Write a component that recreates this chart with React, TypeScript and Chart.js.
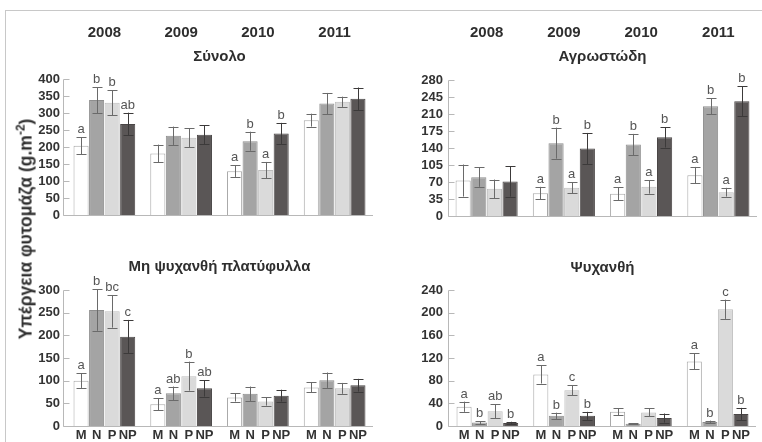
import React, { useEffect, useRef } from "react";
import { Chart, registerables } from "chart.js";

Chart.register(...registerables);

// ---------- DATA ----------
const years = ["2008", "2009", "2010", "2011"];
const treatments = ["M", "N", "P", "NP"];

// Panel 1: Σύνολο
const totalTitle = "Σύνολο";
const totalM = [204, 181, 129, 279];
const totalN = [338, 233, 217, 328];
const totalP = [330, 227, 132, 333];
const totalNP = [268, 236, 240, 342];
const totalErrM = [25, 26, 17, 19];
const totalErrN = [38, 27, 28, 31];
const totalErrP = [37, 28, 24, 15];
const totalErrNP = [33, 28, 31, 33];
const totalLetM = ["a", "", "a", ""];
const totalLetN = ["b", "", "b", ""];
const totalLetP = ["b", "", "a", ""];
const totalLetNP = ["ab", "", "b", ""];

// Panel 2: Αγρωστώδη
const grassTitle = "Αγρωστώδη";
const grassM = [73, 47, 46, 84];
const grassN = [80, 150, 147, 226];
const grassP = [56, 58, 60, 49];
const grassNP = [71, 139, 162, 236];
const grassErrM = [33, 13, 13, 17];
const grassErrN = [20, 32, 22, 16];
const grassErrP = [19, 11, 14, 9];
const grassErrNP = [31, 32, 21, 31];
const grassLetM = ["", "a", "a", "a"];
const grassLetN = ["", "b", "b", "b"];
const grassLetP = ["", "a", "a", "a"];
const grassLetNP = ["", "b", "b", "b"];

// Panel 3: Μη ψυχανθή πλατύφυλλα
const forbTitle = "Μη ψυχανθή πλατύφυλλα";
const forbM = [100, 48, 63, 85];
const forbN = [256, 72, 71, 101];
const forbP = [253, 110, 54, 83];
const forbNP = [197, 83, 67, 90];
const forbErrM = [16, 13, 9, 11];
const forbErrN = [46, 15, 16, 17];
const forbErrP = [36, 32, 9, 12];
const forbErrNP = [37, 18, 13, 14];
const forbLetM = ["a", "a", "", ""];
const forbLetN = ["b", "ab", "", ""];
const forbLetP = ["bc", "b", "", ""];
const forbLetNP = ["c", "ab", "", ""];

// Panel 4: Ψυχανθή
const legTitle = "Ψυχανθή";
const legM = [34, 91, 25, 114];
const legN = [6, 18, 4, 7];
const legP = [26, 63, 24, 206];
const legNP = [5.5, 18, 14, 21];
const legErrM = [9, 16, 6, 14];
const legErrN = [2.5, 5.5, 1, 2.5];
const legErrP = [12, 9, 7, 17];
const legErrNP = [2, 7, 8, 11];
const legLetM = ["a", "a", "", "a"];
const legLetN = ["b", "b", "", "b"];
const legLetP = ["ab", "c", "", "c"];
const legLetNP = ["b", "b", "", "b"];

const yAxisTitle = "Υπέργεια φυτομάζα (g.m";
const yAxisUnitSup = "-2";

// ---------- STYLE ----------
const W = 762;
const H = 442;
const FONT = "'Liberation Sans', Arial, sans-serif";
const fills = ["#ffffff", "#a4a4a4", "#dadada", "#5a5656"];
const borders = ["#a8a8a8", "#8e8e8e", "#bdbdbd", "#4a4646"];

type Panel = {
  title: string;
  values: number[][];
  errors: number[][];
  letters: string[][];
  max: number;
  step: number;
  area: { left: number; top: number; right: number; bottom: number };
  axisGap: number;
  titleY: number;
  yearsY: number | null;
  xLabelsY: number | null;
  tickPad: number;
};

const panels: Panel[] = [
  {
    title: totalTitle,
    values: [totalM, totalN, totalP, totalNP],
    errors: [totalErrM, totalErrN, totalErrP, totalErrNP],
    letters: [totalLetM, totalLetN, totalLetP, totalLetNP],
    max: 400,
    step: 50,
    area: { left: 66, top: 79, right: 373, bottom: 215 },
    axisGap: 3,
    titleY: 57,
    yearsY: 33,
    xLabelsY: null,
    tickPad: 6,
  },
  {
    title: grassTitle,
    values: [grassM, grassN, grassP, grassNP],
    errors: [grassErrM, grassErrN, grassErrP, grassErrNP],
    letters: [grassLetM, grassLetN, grassLetP, grassLetNP],
    max: 280,
    step: 35,
    area: { left: 448, top: 80, right: 757, bottom: 216 },
    axisGap: 0,
    titleY: 57,
    yearsY: 33,
    xLabelsY: null,
    tickPad: 5,
  },
  {
    title: forbTitle,
    values: [forbM, forbN, forbP, forbNP],
    errors: [forbErrM, forbErrN, forbErrP, forbErrNP],
    letters: [forbLetM, forbLetN, forbLetP, forbLetNP],
    max: 300,
    step: 50,
    area: { left: 66, top: 290, right: 373, bottom: 426 },
    axisGap: 3,
    titleY: 267,
    yearsY: null,
    xLabelsY: 435,
    tickPad: 6,
  },
  {
    title: legTitle,
    values: [legM, legN, legP, legNP],
    errors: [legErrM, legErrN, legErrP, legErrNP],
    letters: [legLetM, legLetN, legLetP, legLetNP],
    max: 240,
    step: 40,
    area: { left: 449, top: 290, right: 756, bottom: 426 },
    axisGap: 1,
    titleY: 268,
    yearsY: null,
    xLabelsY: 435,
    tickPad: 6,
  },
];

const Y_WIDTH = 50;

const decorPlugin = {
  id: "decor",
  afterDatasetsDraw(chart: any, _args: any, opts: any) {
    const p: Panel = opts.panel;
    const ctx = chart.ctx;
    const xs = chart.scales.x;
    const ys = chart.scales.y;
    const ca = chart.chartArea;
    const ax = Math.round(ca.left - p.axisGap) + 0.5;
    const bottom = Math.round(ys.getPixelForValue(0)) + 0.5;
    const top = Math.round(ys.getPixelForValue(p.max)) + 0.5;
    ctx.save();
    // axes
    ctx.strokeStyle = "#b8b8b8";
    ctx.lineWidth = 1;
    ctx.beginPath();
    ctx.moveTo(ax, top);
    ctx.lineTo(ax, bottom);
    ctx.lineTo(ca.right, bottom);
    ctx.stroke();
    // inside tick marks
    ys.ticks.forEach((t: any) => {
      const py = Math.round(ys.getPixelForValue(t.value)) + 0.5;
      ctx.beginPath();
      ctx.moveTo(ax, py);
      ctx.lineTo(ax + 6, py);
      ctx.stroke();
    });
    // error bars and letters
    p.values.forEach((vals, di) => {
      const meta = chart.getDatasetMeta(di);
      meta.data.forEach((bar: any, i: number) => {
        const v = vals[i];
        const e = p.errors[di][i];
        const x = Math.round(bar.x) + 0.5;
        const yt = ys.getPixelForValue(v + e);
        const yb = ys.getPixelForValue(Math.max(v - e, 0));
        ctx.strokeStyle = di === 3 ? "#3c3a3a" : "#6a6a6a";
        ctx.lineWidth = 1;
        ctx.beginPath();
        ctx.moveTo(x, yt);
        ctx.lineTo(x, yb);
        ctx.moveTo(x - 5, Math.round(yt) + 0.5);
        ctx.lineTo(x + 5, Math.round(yt) + 0.5);
        ctx.moveTo(x - 5, Math.round(yb) + 0.5);
        ctx.lineTo(x + 5, Math.round(yb) + 0.5);
        ctx.stroke();
        const letter = p.letters[di][i];
        if (letter) {
          ctx.fillStyle = "#555555";
          ctx.font = `13px ${FONT}`;
          ctx.textAlign = "center";
          ctx.textBaseline = "alphabetic";
          ctx.fillText(letter, bar.x, yt - 4);
        }
        if (p.xLabelsY !== null) {
          ctx.fillStyle = "#333333";
          ctx.font = `bold 13px ${FONT}`;
          ctx.textAlign = "center";
          ctx.textBaseline = "middle";
          ctx.fillText(treatments[di], bar.x, p.xLabelsY);
        }
      });
    });
    // year labels
    if (p.yearsY !== null) {
      ctx.fillStyle = "#2e2e2e";
      ctx.font = `bold 15px ${FONT}`;
      ctx.textAlign = "center";
      ctx.textBaseline = "middle";
      years.forEach((yr, i) => {
        ctx.fillText(yr, xs.getPixelForValue(i), p.yearsY as number);
      });
    }
    // panel title
    ctx.fillStyle = "#2e2e2e";
    ctx.font = `bold 15px ${FONT}`;
    ctx.textAlign = "center";
    ctx.textBaseline = "middle";
    ctx.fillText(p.title, (ca.left + ca.right) / 2, p.titleY);
    ctx.restore();
  },
};

function PanelChart({ panel }: { panel: Panel }) {
  const ref = useRef<HTMLCanvasElement | null>(null);
  useEffect(() => {
    if (!ref.current) return;
    const a = panel.area;
    const chart = new Chart(ref.current, {
      type: "bar",
      data: {
        labels: years,
        datasets: panel.values.map((vals, di) => ({
          label: treatments[di],
          data: vals,
          backgroundColor: fills[di],
          borderColor: borders[di],
          borderWidth: 1,
          categoryPercentage: 0.81,
          barPercentage: 0.97,
        })),
      },
      options: {
        responsive: false,
        animation: false,
        devicePixelRatio: 1,
        events: [],
        layout: {
          padding: {
            left: a.left - Y_WIDTH,
            top: a.top,
            right: W - a.right,
            bottom: H - a.bottom,
          },
        },
        scales: {
          x: { display: false, offset: true },
          y: {
            min: 0,
            max: panel.max,
            afterFit: (s: any) => {
              s.width = Y_WIDTH;
            },
            grid: { display: false, drawTicks: false },
            border: { display: false },
            ticks: {
              stepSize: panel.step,
              autoSkip: false,
              padding: panel.tickPad,
              color: "#333333",
              font: { family: FONT, size: 13, weight: "bold" },
            },
          },
        },
        plugins: {
          legend: { display: false },
          tooltip: { enabled: false },
          decor: { panel },
        } as any,
      },
      plugins: [decorPlugin],
    });
    return () => chart.destroy();
  }, [panel]);
  return (
    <canvas
      ref={ref}
      width={W}
      height={H}
      style={{ position: "absolute", left: 0, top: 0, width: W, height: H }}
    />
  );
}

export default function App() {
  return (
    <div
      style={{
        position: "absolute",
        left: 0,
        top: 0,
        width: W,
        height: H,
        background: "#ffffff",
        overflow: "hidden",
      }}
    >
      <div
        style={{
          position: "absolute",
          left: 5,
          top: 10,
          width: W - 5,
          height: 0,
          borderTop: "1px solid #c8c8c8",
        }}
      />
      <div
        style={{
          position: "absolute",
          left: 5,
          top: 10,
          width: 0,
          height: H - 10,
          borderLeft: "1px solid #c8c8c8",
        }}
      />
      {panels.map((p, i) => (
        <PanelChart key={i} panel={p} />
      ))}
      <div
        style={{
          position: "absolute",
          left: 23,
          top: 229,
          transform: "translate(-50%, -50%) rotate(-90deg)",
          whiteSpace: "nowrap",
          fontFamily: FONT,
          fontWeight: "bold",
          fontSize: 17.5,
          color: "#2e2e2e",
          lineHeight: "20px",
        }}
      >
        {yAxisTitle}
        <sup style={{ fontSize: 12 }}>{yAxisUnitSup}</sup>)
      </div>
    </div>
  );
}
